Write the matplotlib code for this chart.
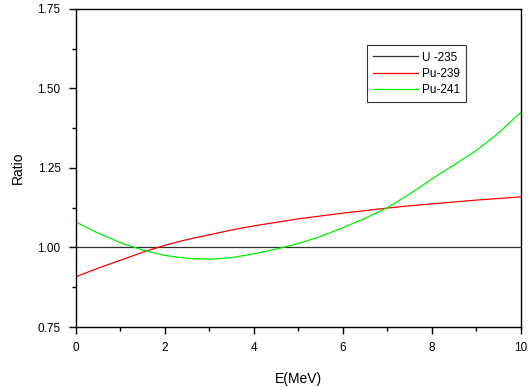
import matplotlib
matplotlib.use("Agg")
import matplotlib.pyplot as plt
from matplotlib.ticker import MultipleLocator

plt.rcParams['font.family'] = ['Liberation Sans', 'DejaVu Sans']

energy = [0, 0.5, 1, 1.5, 2, 2.5, 3, 3.5, 4, 4.5, 5, 5.5, 6, 6.5, 7, 7.5, 8, 8.5, 9, 9.5, 10]
u235 = [1.0] * len(energy)
pu239 = [0.908, 0.935, 0.960, 0.985, 1.007, 1.025, 1.040, 1.055, 1.068, 1.079, 1.090,
         1.099, 1.108, 1.116, 1.124, 1.131, 1.137, 1.143, 1.149, 1.154, 1.159]
pu241 = [1.080, 1.045, 1.015, 0.992, 0.975, 0.966, 0.963, 0.968, 0.980, 0.995, 1.012,
         1.035, 1.062, 1.092, 1.125, 1.168, 1.215, 1.260, 1.305, 1.360, 1.425]

fig = plt.figure(figsize=(5.31, 3.87), dpi=100)
ax = fig.add_axes([0.143, 0.155, 0.838, 0.822])

ax.plot(energy, u235, color='#303030', lw=0.9, label='U -235')
ax.plot(energy, pu239, color='#ff0000', lw=0.9, label='Pu-239')
ax.plot(energy, pu241, color='#00ee00', lw=0.9, label='Pu-241')

ax.set_xlim(0, 10)
ax.set_ylim(0.75, 1.75)
ax.xaxis.set_major_locator(MultipleLocator(2))
ax.xaxis.set_minor_locator(MultipleLocator(1))
ax.yaxis.set_major_locator(MultipleLocator(0.25))
ax.yaxis.set_minor_locator(MultipleLocator(0.125))
ax.yaxis.set_major_formatter(matplotlib.ticker.FormatStrFormatter('%.2f'))
ax.tick_params(which='major', direction='out', length=5, width=1, labelsize=8.5, pad=6)
ax.tick_params(which='minor', direction='out', length=3, width=1)
ax.tick_params(top=False, right=False)
for s in ax.spines.values():
    s.set_linewidth(1.0)

ax.set_xlabel('E(MeV)', fontsize=10, labelpad=13)
ax.set_ylabel('Ratio', fontsize=10, labelpad=9)

leg = ax.legend(loc='upper left', bbox_to_anchor=(0.64, 0.905), fontsize=8.5,
                frameon=True, fancybox=False, edgecolor='black', handlelength=3.8,
                handletextpad=0.3, labelspacing=0.35, borderpad=0.55)
leg.get_frame().set_linewidth(0.8)

plt.savefig('out.png', dpi=100)
